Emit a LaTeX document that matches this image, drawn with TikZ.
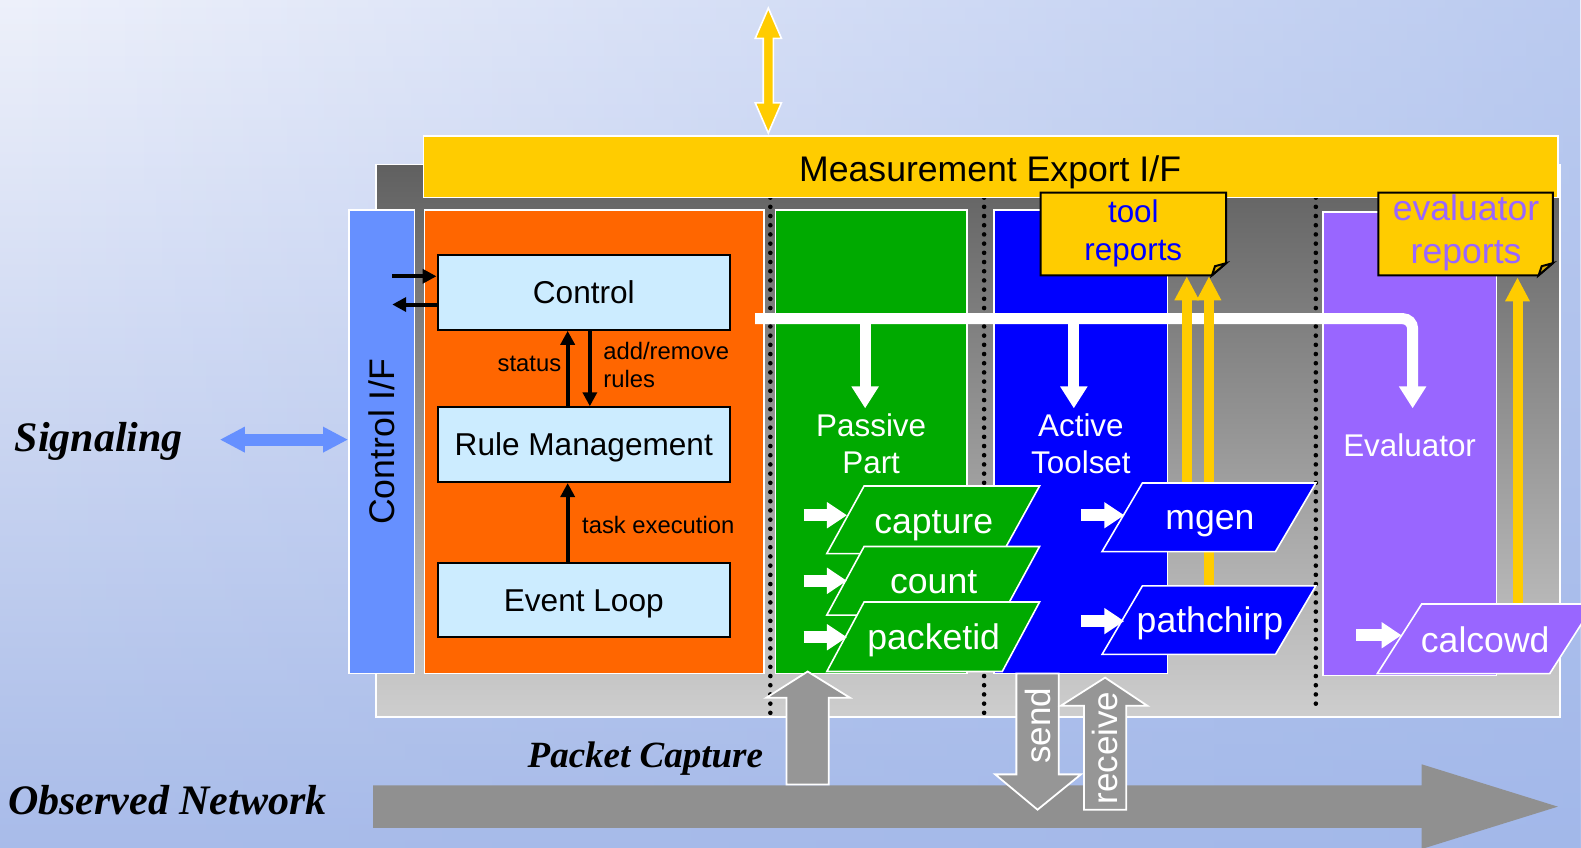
\documentclass[tikz,border=0pt]{standalone}
\usepackage{fontspec}
\setmainfont{Liberation Sans}
\newfontfamily\capfont{Liberation Serif}
\usetikzlibrary{arrows.meta,fadings}

\definecolor{bgT}{RGB}{238,241,251}
\definecolor{bgM}{RGB}{224,230,248}
\definecolor{bgB}{RGB}{169,188,233}
\definecolor{bgR}{RGB}{159,182,234}
\definecolor{frameTop}{RGB}{96,96,96}
\definecolor{frameBot}{RGB}{206,206,206}
\definecolor{expYellow}{RGB}{255,204,0}
\definecolor{foldYellow}{RGB}{214,168,0}
\definecolor{ctlBlue}{RGB}{102,144,255}
\definecolor{coreOrange}{RGB}{255,102,0}
\definecolor{boxBlue}{RGB}{204,236,255}
\definecolor{passGreen}{RGB}{0,170,0}
\definecolor{actBlue}{RGB}{0,0,255}
\definecolor{evalPurple}{RGB}{153,102,255}
\definecolor{netGray}{RGB}{144,144,144}
\definecolor{blockGray}{RGB}{150,150,150}

\tikzfading[name=fade right, left color=transparent!100, right color=transparent!0]

\newcommand\pxu{0.50415pt}

\begin{document}
\begin{tikzpicture}[x=0.50415pt, y=-0.50415pt,
  panel/.style={draw=white, line width=0.8pt, inner sep=0pt},
  ltbox/.style={draw=black, line width=1.1pt, fill=boxBlue,
    minimum width=290*\pxu, minimum height=74*\pxu,
    font=\fontsize{15.8}{18}\selectfont, text height=11.3pt, text depth=0pt},
  lbl/.style={font=\fontsize{11.9}{14}\selectfont, inner sep=0pt},
  blk/.style={line width=2pt, -{Triangle[length=7pt,width=7pt]}},
  rulearrow/.style={white, line width=5.5pt, -{Triangle[length=11pt,width=13pt]}},
  feed/.style={white, line width=6pt, -{Triangle[length=10pt,width=12.5pt]}},
  rep/.style={expYellow, line width=5pt, -{Triangle[length=12pt,width=11.5pt]}},
  sigarrow/.style={ctlBlue, line width=6pt, {Triangle[length=12.5pt,width=12pt]}-{Triangle[length=12.5pt,width=12pt]}},
  para/.style={draw=white, line width=0.8pt},
  ptext/.style={text=white, font=\fontsize{17.8}{20}\selectfont, inner sep=0pt, anchor=base},
  wtxt/.style={text=white, align=center, inner sep=0pt},
  notebox/.style={fill=expYellow, draw=black, line width=1pt},
  blockarr/.style={fill=blockGray, draw=white, line width=0.9pt},
  dotsep/.style={line width=2.3pt, line cap=round, dash pattern=on 0pt off 4.6pt},
  itl/.style={font=\capfont\bfseries\itshape\fontsize{21}{24}\selectfont, inner sep=0pt, anchor=base}]

\useasboundingbox (0,0) rectangle (1568,841);

% background
\shade[top color=bgT, middle color=bgM, bottom color=bgB] (0,0) rectangle (1568,841);
\fill[bgR, fill opacity=0.65, path fading=fade right] (0,0) rectangle (1568,841);

% observed network arrow
\fill[netGray] (370,779) -- (1410,779) -- (1410,758) -- (1545,800) -- (1410,842) -- (1410,821) -- (370,821) -- cycle;

% probe frame
\shade[top color=frameTop, bottom color=frameBot] (373,163) rectangle (1547,711);
\draw[white, line width=0.8pt] (373,163) rectangle (1547,711);

% separators
\foreach \x/\b in {764/710, 976/710, 1305/704}
  \draw[dotsep] (\x,196) -- (\x,\b);

% panels
\node[panel, fill=expYellow, minimum width=1125*\pxu, minimum height=61*\pxu] (exp) at (982.5,165.5) {};
\node[font=\fontsize{17.8}{20}\selectfont, text height=12.7pt, text depth=0pt, inner sep=0pt] at (982,167) {Measurement Export I/F};
\node[panel, fill=ctlBlue, minimum width=65*\pxu, minimum height=460*\pxu] (ctlif) at (378.5,438) {};
\node[rotate=90, font=\fontsize{17.8}{20}\selectfont, inner sep=0pt] at (ctlif.center) {Control I/F};
\node[panel, fill=coreOrange, minimum width=337*\pxu, minimum height=460*\pxu] (core) at (589.5,438) {};
\node[panel, fill=passGreen, minimum width=190*\pxu, minimum height=460*\pxu] (passive) at (864,438) {};
\node[panel, fill=actBlue, minimum width=172*\pxu, minimum height=460*\pxu] (active) at (1072,438) {};
\node[panel, fill=evalPurple, minimum width=172*\pxu, minimum height=460*\pxu] (eval) at (1398,440) {};

% core boxes
\node[ltbox] (ctrl) at (579,290) {Control};
\node[ltbox] (rules) at (579,441) {Rule Management};
\node[ltbox] (loop) at (579,595) {Event Loop};

\draw[blk] ([xshift=-16*\pxu]rules.north) -- ([xshift=-16*\pxu]ctrl.south);
\draw[blk] ([xshift=6*\pxu]ctrl.south) -- ([xshift=6*\pxu]rules.north);
\draw[blk] ([xshift=-16*\pxu]loop.north) -- ([xshift=-16*\pxu]rules.south);
\coordinate (cin) at (389,274);
\coordinate (cout) at (389,302);
\draw[blk] (cin) -- (cin -| ctrl.west);
\draw[blk] (cout -| ctrl.west) -- (cout);

\node[lbl, anchor=east] at (557,361) {status};
\node[lbl, anchor=west, align=left] at (598,362) {add/remove\\rules};
\node[lbl, anchor=west] at (577,521) {task execution};

% panel titles
\node[wtxt, font=\fontsize{15.7}{18.7}\selectfont] at (864,440) {Passive\\Part};
\node[wtxt, font=\fontsize{15.7}{18.7}\selectfont] at (1072,440) {Active\\Toolset};
\node[wtxt, font=\fontsize{15.7}{18.7}\selectfont] at (1398,442) {Evaluator};

% rule distribution
\draw[rulearrow, rounded corners=5pt] (749,316) -- (1401,316) -- (1401,405);
\draw[rulearrow] (858,316) -- (858,405);
\draw[rulearrow] (1065,316) -- (1065,405);

% report notes
\draw[notebox] (1032,191) -- (1216,191) -- (1216,261) -- (1202,273) -- (1032,273) -- cycle;
\draw[notebox, fill=foldYellow] (1216,261) -- (1202,273) -- (1205,264) -- cycle;
\node[wtxt, text=actBlue, font=\fontsize{15.7}{19}\selectfont] (toolrep) at (1124,231) {tool\\reports};
\draw[notebox] (1367,191) -- (1540,191) -- (1540,261) -- (1526,273) -- (1367,273) -- cycle;
\draw[notebox, fill=foldYellow] (1540,261) -- (1526,273) -- (1529,264) -- cycle;
\node[wtxt, text=evalPurple, font=\fontsize{17.8}{21.7}\selectfont] (evalrep) at (1454,231) {evaluator\\reports};

% reports flowing up
\draw[rep] (1177,482) -- (1177,274);
\draw[rep] (1199,583) -- (1199,274);
\draw[rep] (1505,601) -- (1505,275);

% passive tools
\draw[para, fill=passGreen] (857,482) -- (1031,482) -- (994,549) -- (820,549) -- cycle;
\node[ptext] (cap) at (926,529) {capture};
\draw[para, fill=passGreen] (857,542) -- (1031,542) -- (994,610) -- (820,610) -- cycle;
\node[ptext] (cnt) at (926,589) {count};
\draw[para, fill=passGreen] (857,597) -- (1031,597) -- (994,666) -- (820,666) -- cycle;
\node[ptext] (pid) at (926,644) {packetid};

% active tools
\draw[para, fill=actBlue] (1133,479) -- (1305,479) -- (1265,547) -- (1093,547) -- cycle;
\node[ptext] (mgen) at (1200,525) {mgen};
\draw[para, fill=actBlue] (1133,581) -- (1305,581) -- (1265,649) -- (1093,649) -- cycle;
\node[ptext] (chirp) at (1200,627) {pathchirp};

% evaluator tool
\draw[para, fill=evalPurple] (1410,599) -- (1581,599) -- (1537,668) -- (1366,668) -- cycle;
\node[ptext] (calc) at (1473,647) {calcowd};

% inputs to tools
\draw[feed] (797,511) -- (840,511);
\draw[feed] (797,576) -- (840,576);
\draw[feed] (797,632) -- (840,632);
\draw[feed] (1072,511) -- (1115,511);
\draw[feed] (1072,616) -- (1115,616);
\draw[feed] (1345,630) -- (1390,630);

% export link
\filldraw[fill=expYellow, draw=white, line width=0.8pt]
  (762,8) -- (775,38) -- (767,38) -- (767,102) -- (775,102) -- (762,132)
  -- (749,102) -- (757,102) -- (757,38) -- (749,38) -- cycle;

% signaling link
\coordinate (sigtip) at (218,436);
\draw[sigarrow] (sigtip) -- (ctlif.west |- sigtip);

% network links
\filldraw[blockarr] (780,778) -- (780,692) -- (760,692) -- (801,666) -- (843,692) -- (822,692) -- (822,778) -- cycle;
\filldraw[blockarr] (1008,668) -- (1050,668) -- (1050,768) -- (1072,768) -- (1029,803) -- (987,768) -- (1008,768) -- cycle;
\node[rotate=90, text=white, font=\fontsize{17.5}{20}\selectfont, inner sep=0pt] at (1029,720) {send};
\filldraw[blockarr] (1075,803) -- (1075,700) -- (1052,700) -- (1096,672) -- (1138,700) -- (1117,700) -- (1117,803) -- cycle;
\node[rotate=90, text=white, font=\fontsize{17.5}{20}\selectfont, inner sep=0pt] at (1096,742) {receive};

% side labels
\node[itl] (sig) at (98,448) {Signaling};
\node[itl] (obs) at (166,808) {Observed Network};
\node[itl, font=\capfont\bfseries\itshape\fontsize{18.5}{21}\selectfont] (pcap) at (640,761) {Packet Capture};

\end{tikzpicture}
\end{document}
